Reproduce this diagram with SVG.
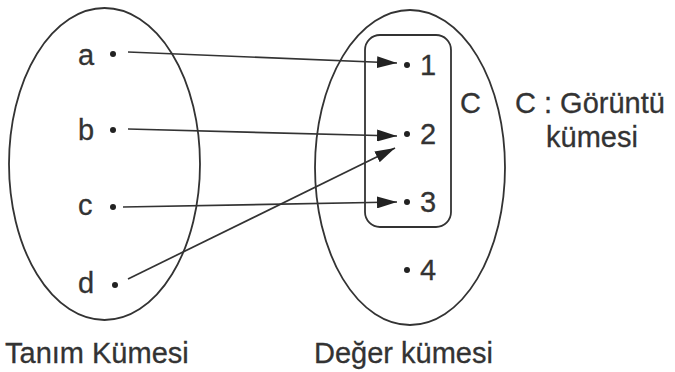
<svg xmlns="http://www.w3.org/2000/svg" width="675" height="372" viewBox="0 0 675 372">
<style>
.set{fill:none;stroke:#333;stroke-width:1.8}
.t{font-family:"Liberation Sans",Arial,sans-serif;font-size:29px;fill:#333;stroke:#333;stroke-width:0.3}
.dot{fill:#222}
.conn{stroke:#333;stroke-width:1.7;fill:none;marker-end:url(#arr)}
</style>
<defs>
<marker id="arr" markerUnits="userSpaceOnUse" markerWidth="22" markerHeight="12" refX="20" refY="6" orient="auto">
<path d="M0,0 L20,6 L0,12 Z" fill="#222"/>
</marker>
</defs>
<rect width="675" height="372" fill="#fff"/>
<g id="tanim">
<ellipse class="set" cx="104.5" cy="164" rx="95.5" ry="156"/>
<text class="t" x="5" y="363">Tanım Kümesi</text>
</g>
<g id="deger">
<ellipse class="set" cx="410" cy="167.5" rx="95" ry="157.5"/>
<text class="t" x="314" y="363">Değer kümesi</text>
</g>
<g id="goruntu">
<rect class="set" x="365" y="35" width="86" height="192" rx="15"/>
<text class="t" x="460" y="113">C</text>
<text class="t" x="515" y="113">C : Görüntü</text>
<text class="t" x="546" y="147">kümesi</text>
</g>
<g id="a"><text class="t" x="78" y="65">a</text><circle class="dot" cx="113" cy="54" r="3"/></g>
<g id="b"><text class="t" x="78" y="140">b</text><circle class="dot" cx="113" cy="130" r="3"/></g>
<g id="c"><text class="t" x="78" y="215">c</text><circle class="dot" cx="113" cy="207" r="3"/></g>
<g id="d"><text class="t" x="78" y="293">d</text><circle class="dot" cx="115" cy="285" r="3"/></g>
<g id="n1"><circle class="dot" cx="407" cy="65" r="3"/><text class="t" x="420" y="75">1</text></g>
<g id="n2"><circle class="dot" cx="407" cy="134" r="3"/><text class="t" x="420" y="144">2</text></g>
<g id="n3"><circle class="dot" cx="407" cy="202" r="3"/><text class="t" x="420" y="212">3</text></g>
<g id="n4"><circle class="dot" cx="407" cy="270" r="3"/><text class="t" x="420" y="280">4</text></g>
<g id="connectors">
<line class="conn" x1="128" y1="52" x2="397" y2="63"/>
<line class="conn" x1="128" y1="129" x2="397" y2="136"/>
<line class="conn" x1="123" y1="207" x2="397" y2="202"/>
<line class="conn" x1="128" y1="279" x2="395" y2="148"/>
</g>
</svg>
